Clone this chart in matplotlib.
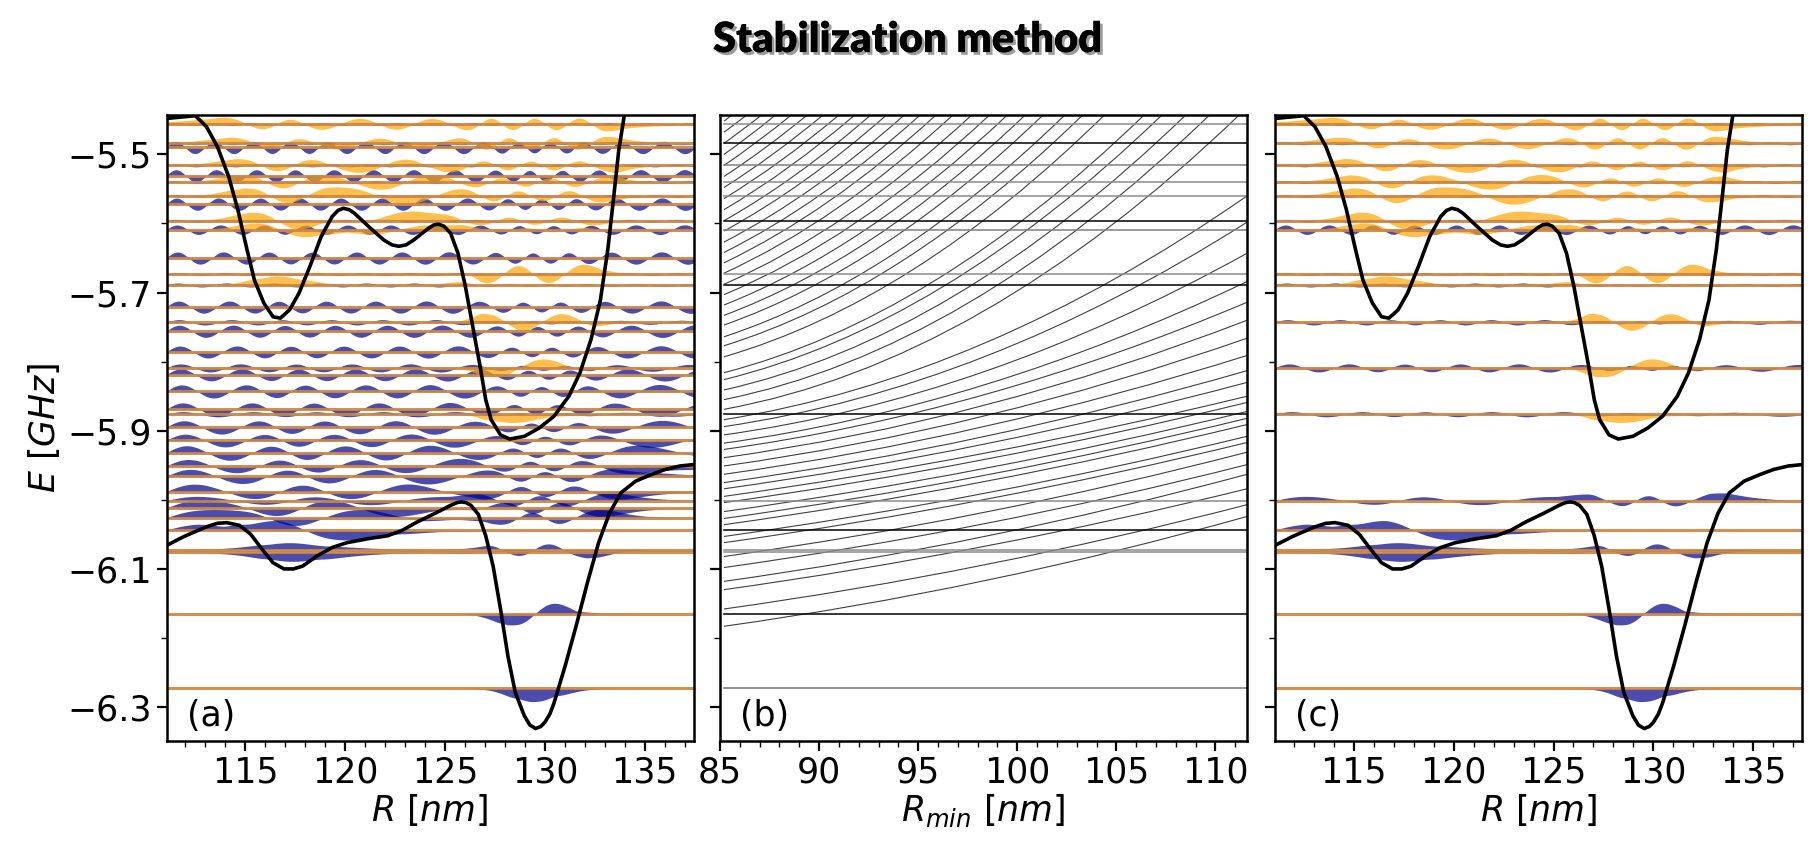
import numpy as np
import matplotlib.pyplot as plt
import matplotlib.patheffects as pe
from matplotlib.path import Path
from matplotlib.patches import PathPatch

# ---- potential curves (R in nm, E in GHz) ----
upper_R = [111.06, 112.5, 113.06, 113.61, 114.17, 114.63, 115.09, 115.46, 115.93, 116.39,
           116.76, 117.22, 117.69, 118.24, 118.80, 119.35, 119.65, 119.91, 120.20, 120.46,
           121.20, 121.94, 122.35, 122.69, 123.05, 123.43, 124.17, 124.45, 124.69, 124.95,
           125.28, 125.65, 126.02, 126.39, 126.76, 127.04, 127.31, 127.78, 128.24, 128.98,
           129.72, 130.46, 131.20, 131.76, 132.31, 132.78, 133.15, 133.43, 133.70, 133.98]
upper_E = [-5.448, -5.444, -5.460, -5.489, -5.532, -5.580, -5.638, -5.682, -5.715, -5.735,
           -5.737, -5.725, -5.701, -5.662, -5.619, -5.590, -5.581, -5.578, -5.580, -5.585,
           -5.605, -5.624, -5.631, -5.633, -5.631, -5.624, -5.607, -5.602, -5.601, -5.604,
           -5.614, -5.643, -5.691, -5.749, -5.807, -5.855, -5.884, -5.906, -5.912, -5.908,
           -5.896, -5.879, -5.850, -5.816, -5.768, -5.711, -5.638, -5.566, -5.494, -5.443]

lower_R = [111.06, 111.94, 113.06, 113.60, 114.07, 114.72, 115.28, 115.83, 116.39, 116.94,
           117.41, 117.87, 118.61, 119.35, 120.09, 121.20, 122.13, 122.87, 123.61, 124.54,
           125.28, 125.60, 125.83, 126.05, 126.30, 126.67, 127.04, 127.41, 127.78, 128.15,
           128.52, 128.98, 129.25, 129.54, 129.80, 130.00, 130.25, 130.46, 131.02, 131.57,
           132.13, 132.69, 133.24, 133.80, 134.54, 135.28, 136.02, 136.76, 137.44]
lower_E = [-6.066, -6.053, -6.039, -6.034, -6.033, -6.037, -6.050, -6.071, -6.091, -6.100,
           -6.100, -6.096, -6.081, -6.069, -6.062, -6.056, -6.052, -6.044, -6.032, -6.019,
           -6.008, -6.004, -6.003, -6.004, -6.008, -6.021, -6.052, -6.096, -6.158, -6.226,
           -6.279, -6.313, -6.326, -6.331, -6.328, -6.322, -6.310, -6.294, -6.240, -6.182,
           -6.120, -6.062, -6.019, -5.990, -5.973, -5.964, -5.956, -5.951, -5.949]

# ---- stable levels (kept in panel c) with channel amplitudes left/right of the barrier ----
res_E       = [-5.456, -5.484, -5.516, -5.540, -5.560, -5.596, -5.609, -5.673, -5.689,
               -5.743, -5.809, -5.876, -6.001, -6.044, -6.072, -6.076, -6.165, -6.273]
res_blue_l  = [0.002, 0.002, 0.002, 0.002, 0.002, 0.002, 0.007, 0.002, 0.003,
               0.004, 0.006, 0.004, 0.006, 0.014, 0.010, -0.013, 0.0, 0.0]
res_blue_r  = [0.002, 0.002, 0.002, 0.002, 0.002, 0.002, 0.007, 0.002, 0.002,
               0.003, 0.005, 0.003, 0.011, 0.0, 0.012, 0.0, -0.016, -0.019]
res_orng_l  = [0.010, 0.009, 0.010, 0.011, 0.013, 0.014, 0.010, 0.0, 0.013,
               0.0, 0.0, 0.0, 0.0, 0.0, 0.0, 0.0, 0.0, 0.0]
res_orng_r  = [0.010, 0.010, 0.010, 0.009, 0.009, 0.006, 0.004, 0.014, 0.001,
               0.013, -0.013, -0.012, 0.0, 0.0, 0.0, 0.0, 0.0, 0.0]

# ---- box (discretised continuum) levels, only in panel a ----
box_E    = [-5.490, -5.531, -5.572, -5.650, -5.721, -5.756, -5.786, -5.819, -5.843,
            -5.869, -5.895, -5.914, -5.932, -5.951, -5.966, -5.988, -6.012, -6.026]
box_blue = [0.009, 0.009, 0.009, 0.009, 0.009, 0.009, 0.009, 0.009, 0.010,
            0.010, 0.010, 0.010, 0.011, 0.011, 0.011, 0.011, 0.012, 0.012]

# ---- stabilization diagram ----
# each root: energy and slope at R_min = 85.2, then where it leaves the frame
stab_R0 = 85.2
stab_left = [-6.183, -6.158, -6.130, -6.118, -6.098, -6.082, -6.062, -6.053, -6.036, -6.027,
             -6.017, -6.004, -5.995, -5.984, -5.975, -5.963, -5.951, -5.939, -5.927, -5.918,
             -5.906, -5.894, -5.884, -5.869, -5.855, -5.841, -5.826, -5.816, -5.793, -5.777,
             -5.764, -5.747, -5.733, -5.718, -5.703, -5.688, -5.672, -5.657, -5.642, -5.627,
             -5.611, -5.596, -5.580, -5.564, -5.548, -5.532, -5.516, -5.500, -5.484, -5.468,
             -5.452]
stab_slope0 = [0.004, 0.004, 0.004, 0.004, 0.004, 0.004, 0.004, 0.004, 0.004, 0.004,
               0.004, 0.004, 0.004, 0.004, 0.004, 0.004, 0.004, 0.004, 0.004, 0.004,
               0.004, 0.0042, 0.0046, 0.0052, 0.0058, 0.0064, 0.0070, 0.0074, 0.0083, 0.0089,
               0.0094, 0.0101, 0.0107, 0.0113, 0.0119, 0.0125, 0.0131, 0.0137, 0.0143, 0.0149,
               0.0156, 0.0162, 0.0168, 0.0174, 0.0181, 0.0187, 0.0194, 0.0200, 0.0206, 0.0213,
               0.0219]
stab_end_R = [111.6, 111.6, 111.6, 111.6, 111.6, 111.6, 111.6, 111.6, 111.6, 111.6,
              111.6, 111.6, 111.6, 111.6, 111.6, 111.6, 111.6, 111.6, 111.6, 111.6,
              111.6, 111.6, 111.6, 111.2, 109.7, 108.5, 107.3, 106.4, 104.4, 103.3,
              102.4, 101.3, 100.4, 99.5, 98.6, 97.7, 96.75, 95.9, 95.1, 94.3,
              93.4, 92.6, 91.8, 91.0, 90.2, 89.4, 88.6, 87.8, 87.1, 86.35,
              85.6]
stab_end_E = [-6.024, -6.007, -5.984, -5.963, -5.949, -5.931, -5.917, -5.908, -5.891, -5.882,
              -5.872, -5.859, -5.850, -5.830, -5.813, -5.791, -5.766, -5.740, -5.714, -5.684,
              -5.643, -5.598, -5.560, -5.443, -5.443, -5.443, -5.443, -5.443, -5.443, -5.443,
              -5.443, -5.443, -5.443, -5.443, -5.443, -5.443, -5.443, -5.443, -5.443, -5.443,
              -5.443, -5.443, -5.443, -5.443, -5.443, -5.443, -5.443, -5.443, -5.443, -5.443,
              -5.443]
stab_flat_E     = [-5.456, -5.484, -5.516, -5.540, -5.560, -5.596, -5.609, -5.673, -5.689,
                   -5.876, -6.001, -6.044, -6.072, -6.076, -6.165, -6.273]
stab_flat_shade = ['0.55', '0.0', '0.5', '0.55', '0.55', '0.0', '0.5', '0.55', '0.0',
                   '0.0', '0.55', '0.0', '0.55', '0.55', '0.0', '0.45']

y_major = [-6.3, -6.1, -5.9, -5.7, -5.5]
y_minor = [-6.2, -6.0, -5.8, -5.6]
R_LIM = (111.06, 137.45)
RMIN_LIM = (85.0, 111.6)
E_LIM = (-6.349, -5.443)

C_MASS = 19.0   # k^2 = C_MASS * (E - V)   [nm^-2 / GHz]
K_MIN = 1.0
SPLIT = 126.0

R = np.linspace(R_LIM[0], R_LIM[1], 1600)
dR = R[1] - R[0]
V_low = np.interp(R, lower_R, lower_E)
V_up = np.interp(R, upper_R, upper_E)


def wkb_wave(E, V, amp_l, amp_r):
    # semiclassical wave for one channel, scaled separately on each side of the barrier
    d = E - V
    allowed = d > 0
    if not allowed.any() or (amp_l == 0 and amp_r == 0):
        return np.zeros_like(R)
    k = np.sqrt(C_MASS * np.clip(d, 0, None))
    kap = np.sqrt(C_MASS * np.clip(-d, 0, None))
    phase = np.cumsum(k) * dR + (0.0 if allowed[0] else np.pi / 4)
    env = 1.0 / np.sqrt(np.maximum(k, K_MIN))
    fwd = np.empty_like(R)
    bwd = np.empty_like(R)
    acc = np.inf
    for i in range(len(R)):
        acc = 0.0 if allowed[i] else acc + kap[i] * dR
        fwd[i] = acc
    acc = np.inf
    for i in range(len(R) - 1, -1, -1):
        acc = 0.0 if allowed[i] else acc + kap[i] * dR
        bwd[i] = acc
    psi = env * np.exp(-np.minimum(fwd, bwd)) * np.sin(phase)
    left = R < SPLIT
    ml = np.abs(psi[left]).max()
    mr = np.abs(psi[~left]).max()
    g = max(ml, mr)
    sl = amp_l / ml if ml > 1e-3 * g else 0.0
    sr = amp_r / mr if mr > 1e-3 * g else 0.0
    w = np.clip((R - SPLIT + 0.8) / 1.6, 0, 1)
    return psi * ((1 - w) * sl + w * sr)


def draw_level(ax, E, bl, br, ol, orr):
    psi_b = wkb_wave(E, V_low, bl, br)
    psi_o = wkb_wave(E, V_up, ol, orr)
    ax.fill_between(R, E, E + psi_b, color='darkblue', alpha=0.7, lw=0, zorder=1)
    ax.fill_between(R, E, E + psi_o, color='orange', alpha=0.7, lw=0, zorder=1.5)
    ax.axhline(E, color='peru', lw=2.2, alpha=0.9, zorder=2)


plt.rcParams['font.size'] = 25
plt.rcParams['mathtext.fontset'] = 'dejavusans'

fig = plt.figure(figsize=(18.14, 8.42), dpi=100)
ax_a = fig.add_axes([0.0918, 0.1200, 0.2906, 0.7434])
ax_b = fig.add_axes([0.3969, 0.1200, 0.2906, 0.7434])
ax_c = fig.add_axes([0.7029, 0.1200, 0.2906, 0.7434])

# ----------------------------------------
# (a) all eigenstates
# ----------------------------------------
for i in range(len(box_E)):
    draw_level(ax_a, box_E[i], box_blue[i], box_blue[i], 0.0, 0.0)
for i in range(len(res_E)):
    draw_level(ax_a, res_E[i], res_blue_l[i], res_blue_r[i], res_orng_l[i], res_orng_r[i])

# ----------------------------------------
# (c) stable states only
# ----------------------------------------
for i in range(len(res_E)):
    draw_level(ax_c, res_E[i], res_blue_l[i], res_blue_r[i], res_orng_l[i], res_orng_r[i])

for ax in (ax_a, ax_c):
    ax.plot(upper_R, upper_E, color='k', lw=2.6, zorder=3, solid_joinstyle='round')
    ax.plot(lower_R, lower_E, color='k', lw=2.6, zorder=3, solid_joinstyle='round')
    ax.set_xlim(*R_LIM)
    ax.set_xticks([115, 120, 125, 130, 135])
    ax.set_xticks(np.arange(112, 138), minor=True)
    ax.set_xlabel('$R$ [$nm$]', labelpad=2)

# ----------------------------------------
# (b) stabilization diagram
# ----------------------------------------
# every root is a quadratic Bezier: tangent at the start, ending where it leaves the frame
for i in range(len(stab_left)):
    half = (stab_end_R[i] - stab_R0) / 2
    verts = [(stab_R0, stab_left[i]),
             (stab_R0 + half, stab_left[i] + stab_slope0[i] * half),
             (stab_end_R[i], stab_end_E[i])]
    ax_b.add_patch(PathPatch(Path(verts, [Path.MOVETO, Path.CURVE3, Path.CURVE3]),
                             fill=False, edgecolor='k', lw=0.8, alpha=0.75))
for i in range(len(stab_flat_E)):
    ax_b.plot([stab_R0, RMIN_LIM[1]], [stab_flat_E[i], stab_flat_E[i]],
              color=stab_flat_shade[i], lw=1.1)
ax_b.set_xlim(*RMIN_LIM)
ax_b.set_xticks([85, 90, 95, 100, 105, 110])
ax_b.set_xticks(np.arange(86, 112), minor=True)
ax_b.set_xlabel('$R_{min}$ [$nm$]', labelpad=2)

for ax, tag in ((ax_a, '(a)'), (ax_b, '(b)'), (ax_c, '(c)')):
    ax.set_ylim(*E_LIM)
    ax.set_yticks(y_major)
    ax.set_yticks(y_minor, minor=True)
    ax.tick_params(which='major', length=7, width=1.6)
    ax.tick_params(which='minor', length=4, width=1.0)
    for s in ax.spines.values():
        s.set_linewidth(1.8)
    ax.text(0.038, 0.012, tag, transform=ax.transAxes, ha='left', va='bottom', fontsize=25)

ax_b.tick_params(labelleft=False)
ax_c.tick_params(labelleft=False)
ax_a.set_ylabel('$E$ [$GHz$]', labelpad=4)

fig.text(0.5, 0.975, 'Stabilization method', ha='center', va='top', fontsize=30,
         fontweight='heavy', family=['Lato', 'DejaVu Sans'],
         path_effects=[pe.withSimplePatchShadow(offset=(2, -2), shadow_rgbFace='0.35', alpha=0.6),
                       pe.Normal()])

fig.savefig('out.png', dpi=100, facecolor='white')
